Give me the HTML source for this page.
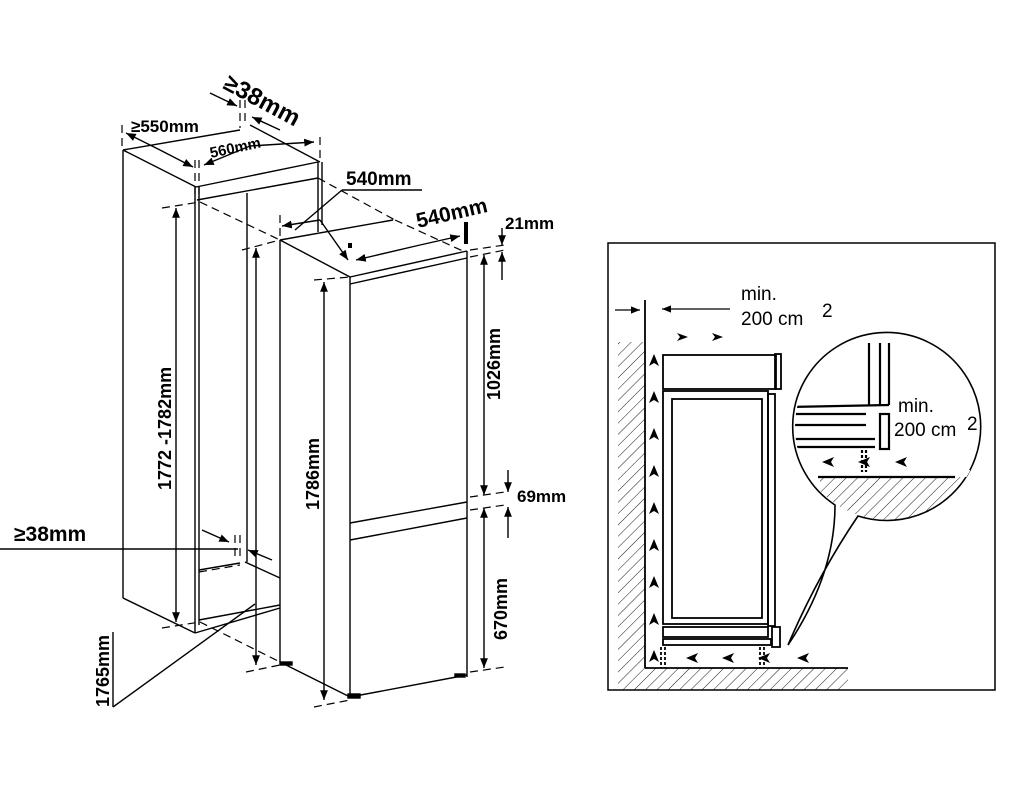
<!DOCTYPE html>
<html><head><style>
html,body{margin:0;padding:0;background:#fff;}
svg{display:block;}
text{font-family:"Liberation Sans",sans-serif;font-weight:bold;fill:#000;}
.t{font-weight:normal;}
</style></head><body>
<svg width="1020" height="800" viewBox="0 0 1020 800" xmlns="http://www.w3.org/2000/svg">
<defs>
<marker id="a" viewBox="0 0 10 10" refX="10" refY="5" markerWidth="7" markerHeight="7" orient="auto-start-reverse"><path d="M0,1 L10,5 L0,9 z" fill="#000"/></marker>
<pattern id="h" width="8" height="8" patternUnits="userSpaceOnUse" patternTransform="rotate(45)"><line x1="0" y1="0" x2="0" y2="8" stroke="#000" stroke-width="0.9"/></pattern>
</defs>
<g stroke="#000" stroke-width="1.4" fill="none">
<line x1="123" y1="150" x2="123" y2="598"/>
<line x1="123" y1="598" x2="195" y2="633"/>
<line x1="123" y1="150" x2="240" y2="130"/>
<line x1="250" y1="125" x2="320" y2="162"/>
<line x1="123" y1="150" x2="196" y2="187"/>
<line x1="196" y1="187" x2="318" y2="162"/>
<line x1="197" y1="200" x2="318" y2="178"/>
<line x1="195" y1="187" x2="195" y2="633"/>
<line x1="199" y1="187" x2="199" y2="625"/>
<line x1="318" y1="162" x2="318" y2="232"/>
<line x1="322" y1="162" x2="322" y2="225"/>
<line x1="247" y1="193" x2="247" y2="562"/>
<line x1="199" y1="570" x2="240" y2="563"/>
<line x1="195" y1="633" x2="280" y2="608"/>
<line x1="199" y1="620" x2="280" y2="605"/>
<line x1="245" y1="562" x2="280" y2="578"/>
<line x1="280" y1="240" x2="280" y2="662"/>
<line x1="280" y1="240" x2="393" y2="220"/>
<line x1="280" y1="240" x2="350" y2="277"/>
<line x1="350" y1="277" x2="467" y2="251"/>
<line x1="350" y1="284" x2="467" y2="258"/>
<line x1="350" y1="277" x2="350" y2="697"/>
<line x1="467" y1="251" x2="467" y2="677"/>
<line x1="280" y1="662" x2="350" y2="697"/>
<line x1="350" y1="697" x2="467" y2="675"/>
<line x1="350" y1="523" x2="467" y2="502"/>
<line x1="350" y1="540" x2="467" y2="518"/>
<rect x="348" y="694" width="12" height="4" fill="#000"/>
<rect x="455" y="674" width="10" height="3" fill="#000"/>
<rect x="280" y="662" width="12" height="3" fill="#000"/>
</g>
<g stroke="#000" stroke-width="1.2" fill="none" stroke-dasharray="8,5">
<line x1="122" y1="125" x2="122" y2="150"/>
<line x1="320" y1="137" x2="320" y2="162"/>
<line x1="195" y1="160" x2="195" y2="200"/>
<line x1="199" y1="160" x2="199" y2="200"/>
<line x1="240" y1="100" x2="240" y2="128"/>
<line x1="245" y1="100" x2="245" y2="125"/>
<line x1="162" y1="208" x2="200" y2="202"/>
<line x1="200" y1="202" x2="280" y2="240"/>
<line x1="318" y1="178" x2="395" y2="220"/>
<line x1="395" y1="220" x2="465" y2="252"/>
<line x1="242" y1="250" x2="280" y2="240"/>
<line x1="280" y1="215" x2="280" y2="240"/>
<line x1="314" y1="280" x2="350" y2="277"/>
<line x1="470" y1="250" x2="505" y2="245"/>
<line x1="470" y1="257" x2="505" y2="250"/>
<line x1="470" y1="497" x2="505" y2="492"/>
<line x1="470" y1="510" x2="505" y2="505"/>
<line x1="470" y1="672" x2="505" y2="667"/>
<line x1="162" y1="628" x2="200" y2="622"/>
<line x1="200" y1="622" x2="280" y2="662"/>
<line x1="246" y1="672" x2="280" y2="665"/>
<line x1="314" y1="707" x2="350" y2="700"/>
<line x1="199" y1="572" x2="240" y2="565"/>
<line x1="235" y1="535" x2="235" y2="560"/>
<line x1="240" y1="535" x2="240" y2="560"/>
</g>
<rect x="348" y="243" width="4" height="5" fill="#000"/>
<rect x="464" y="222" width="4" height="22" fill="#000"/>
<g stroke="#000" stroke-width="1.4" fill="none" marker-end="url(#a)">
<line x1="176" y1="415" x2="176" y2="622"/>
<line x1="176" y1="415" x2="176" y2="208"/>
<line x1="256" y1="420" x2="256" y2="665"/>
<line x1="256" y1="420" x2="256" y2="248"/>
<line x1="324" y1="480" x2="324" y2="700"/>
<line x1="324" y1="480" x2="324" y2="282"/>
<line x1="484" y1="380" x2="484" y2="495"/>
<line x1="484" y1="380" x2="484" y2="255"/>
<line x1="484" y1="590" x2="484" y2="668"/>
<line x1="484" y1="590" x2="484" y2="508"/>
<line x1="502" y1="228" x2="502" y2="245"/>
<line x1="502" y1="280" x2="502" y2="252"/>
<line x1="508" y1="470" x2="508" y2="492"/>
<line x1="508" y1="538" x2="508" y2="507"/>
<line x1="160" y1="150" x2="126" y2="133"/>
<line x1="160" y1="150" x2="193" y2="167"/>
<line x1="250" y1="146" x2="204" y2="165"/>
<line x1="250" y1="146" x2="314" y2="142"/>
<line x1="210" y1="93" x2="237" y2="106"/>
<line x1="280" y1="130" x2="252" y2="117"/>
<line x1="320" y1="220" x2="282" y2="226"/>
<line x1="320" y1="220" x2="348" y2="260"/>
<line x1="420" y1="245" x2="356" y2="260"/>
<line x1="420" y1="245" x2="460" y2="236"/>
<line x1="202" y1="530" x2="229" y2="542"/>
<line x1="272" y1="560" x2="248" y2="550"/>
</g>
<g stroke="#000" stroke-width="1.4" fill="none">
<line x1="295" y1="230" x2="342" y2="190"/>
<line x1="342" y1="190" x2="422" y2="190"/>
<line x1="0" y1="549" x2="238" y2="549"/>
<line x1="113" y1="632" x2="113" y2="707"/>
<line x1="113" y1="707" x2="255" y2="604"/>
</g>
<text x="131" y="132" font-size="17">≥550mm</text>
<text x="0" y="0" font-size="15" transform="translate(211,158) rotate(-12)">560mm</text>
<text x="0" y="0" font-size="24" transform="translate(222,88) rotate(28)">≥38mm</text>
<text x="346" y="185" font-size="19">540mm</text>
<text x="0" y="0" font-size="21" transform="translate(418,228) rotate(-13)">540mm</text>
<text x="505" y="229" font-size="17">21mm</text>
<text x="0" y="0" font-size="18" transform="translate(171,490) rotate(-90)">1772 -1782mm</text>
<text x="0" y="0" font-size="18" transform="translate(319,510) rotate(-90)">1786mm</text>
<text x="0" y="0" font-size="18" transform="translate(500,400) rotate(-90)">1026mm</text>
<text x="0" y="0" font-size="18" transform="translate(507,640) rotate(-90)">670mm</text>
<text x="517" y="502" font-size="17">69mm</text>
<text x="14" y="541" font-size="21">≥38mm</text>
<text x="0" y="0" font-size="18" transform="translate(109,707) rotate(-90)">1765mm</text>

<rect x="608" y="243" width="387" height="447" fill="none" stroke="#000" stroke-width="1.5"/>
<rect x="618" y="342" width="27" height="348" fill="url(#h)"/>
<rect x="645" y="668" width="203" height="22" fill="url(#h)"/>
<g stroke="#000" stroke-width="1.8" fill="none">
<line x1="645" y1="300" x2="645" y2="668"/>
<line x1="645" y1="668" x2="848" y2="668"/>
<rect x="663" y="355" width="113" height="34"/>
<rect x="775" y="354" width="6" height="35"/>
<rect x="663" y="391" width="105" height="233"/>
<rect x="672" y="399" width="90" height="219"/>
<rect x="768" y="394" width="7" height="232"/>
<rect x="663" y="627" width="105" height="10"/>
<rect x="663" y="639" width="108" height="6"/>
<rect x="772" y="627" width="8" height="20"/>
<line x1="661" y1="647" x2="661" y2="668" stroke-dasharray="3,2"/>
<line x1="665" y1="647" x2="665" y2="668" stroke-dasharray="3,2"/>
<line x1="760" y1="647" x2="760" y2="668" stroke-dasharray="3,2"/>
<line x1="764" y1="647" x2="764" y2="668" stroke-dasharray="3,2"/>
</g>
<g stroke="#000" stroke-width="1.3" fill="none">
<line x1="615" y1="310" x2="640" y2="310" marker-end="url(#a)"/>
<line x1="730" y1="309" x2="662" y2="309" marker-end="url(#a)"/>
</g>
<g fill="#000">
<path d="M677,333 l11,4 l-11,4 l3,-4z"/><path d="M712,333 l11,4 l-11,4 l3,-4z"/>
<g id="up"><path d="M654,354 l5,12 l-5,-3 l-5,3z"/></g>
<use href="#up" y="37"/><use href="#up" y="74"/><use href="#up" y="111"/><use href="#up" y="148"/><use href="#up" y="185"/><use href="#up" y="222"/><use href="#up" y="259"/><use href="#up" y="296"/>
<g id="lf"><path d="M686,658 l12,-5 l-3,5 l3,5z"/></g>
<use href="#lf" x="36"/><use href="#lf" x="72"/><use href="#lf" x="111"/>
</g>
<path d="M858,516 Q818,575 788,645 Q835,575 835,505 A94,94 0 1 1 858,516 z" fill="#fff" stroke="#000" stroke-width="1.6"/>
<clipPath id="c"><circle cx="888" cy="427" r="93"/></clipPath>
<g clip-path="url(#c)">
<rect x="820" y="477" width="150" height="50" fill="url(#h)"/>
<rect x="820" y="470" width="150" height="7" fill="#fff"/>
<g stroke="#000" stroke-width="2.2" fill="none">
<line x1="818" y1="477" x2="955" y2="477"/>
<line x1="869" y1="343" x2="869" y2="405"/>
<line x1="880" y1="343" x2="880" y2="405"/>
<line x1="889" y1="343" x2="889" y2="405"/>
<line x1="790" y1="407" x2="889" y2="405"/>
<line x1="790" y1="414" x2="866" y2="414"/>
<line x1="790" y1="425" x2="866" y2="425"/>
<line x1="790" y1="439" x2="875" y2="439"/>
<line x1="790" y1="447" x2="875" y2="447"/>
<rect x="880" y="414" width="9" height="35"/>
<line x1="862" y1="450" x2="862" y2="472" stroke-dasharray="3,2"/>
<line x1="866" y1="450" x2="866" y2="472" stroke-dasharray="3,2"/>
</g>
<g fill="#000"><path d="M822,462 l12,-5 l-3,5 l3,5z"/><path d="M858,462 l12,-5 l-3,5 l3,5z"/><path d="M895,462 l12,-5 l-3,5 l3,5z"/></g>
</g>
<text class="t" x="741" y="300" font-size="19">min.</text>
<text class="t" x="741" y="325" font-size="19">200 cm</text>
<text class="t" x="822" y="317" font-size="19">2</text>
<text class="t" x="898" y="412" font-size="19">min.</text>
<text class="t" x="894" y="436" font-size="19">200 cm</text>
<text class="t" x="967" y="430" font-size="19">2</text>
</svg>
</body></html>
